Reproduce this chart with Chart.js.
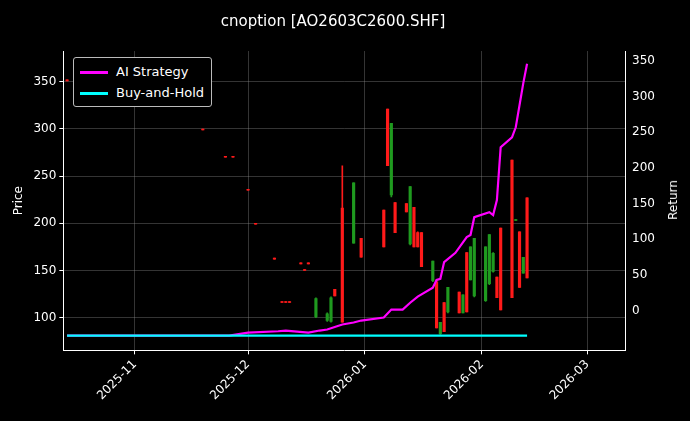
<!DOCTYPE html>
<html>
<head>
<meta charset="utf-8">
<script src="https://cdn.jsdelivr.net/npm/chart.js@4.4.1/dist/chart.umd.min.js"></script>
<style>
  body { margin: 0; background: #000; }
  #wrap { position: relative; width: 690px; height: 421px; }
  #legend {
    position: absolute; left: 73px; top: 57px; padding: 3px 7px 3px 6px;
    border: 1px solid #bbb; border-radius: 3px; background: #000;
    font: 13px "DejaVu Sans", sans-serif; color: #fff; line-height: 21px;
  }
  #legend span { display: inline-block; width: 28px; height: 3px; vertical-align: middle; margin-right: 8px; }
  #rtitle { position: absolute; left: 673px; top: 200px; color: #fff; font: 12px "DejaVu Sans", sans-serif;
    transform: translate(-50%, -50%) rotate(-90deg); }
</style>
</head>
<body>
<div id="wrap">
  <canvas id="c" width="690" height="421"></canvas>
  <div id="legend">
    <div><span style="background:#ff00ff"></span>AI Strategy</div>
    <div><span style="background:#00ffff"></span>Buy-and-Hold</div>
  </div>
  <div id="rtitle">Return</div>
</div>
<script>
// ===============================
// Data
// ===============================
const candleDates = [
  "2025-10-14","2025-11-07","2025-11-19","2025-11-25","2025-11-27","2025-12-01","2025-12-03",
  "2025-12-08","2025-12-10","2025-12-11","2025-12-12","2025-12-15","2025-12-16","2025-12-17",
  "2025-12-19","2025-12-22","2025-12-23","2025-12-24","2025-12-26","2025-12-29","2025-12-31",
  "2026-01-06","2026-01-07","2026-01-08","2026-01-09","2026-01-12","2026-01-13","2026-01-14",
  "2026-01-15","2026-01-16","2026-01-19","2026-01-20","2026-01-21","2026-01-22","2026-01-23",
  "2026-01-26","2026-01-27","2026-01-28","2026-01-29","2026-01-30","2026-02-02","2026-02-03",
  "2026-02-04","2026-02-05","2026-02-06","2026-02-09","2026-02-10","2026-02-11","2026-02-12",
  "2026-02-13"
];
const opens  = [352,326,300,271,271,236,200,163,117,117,117,158,151,158,
  101,97,96,130,216,179,184, 214,321,230,222,221,178,217,190,190,
  139,138,83,116,106, 127,105,169,140,123,118,136,149,143,195,267,203,191,147,227];
const closes = [351,325,299,270,270,235,199,162,116,116,116,157,150,157,
  120,104,121,123,95,243,164, 175,261,306,190,212,239,175,175,154,
  160,89,95,85,132, 105,124,106,175,184,175,188,168,121,108,121,204,132,164,142];
const highs  = [352,326,300,271,271,236,200,163,117,117,117,158,151,158,
  121,105,122,130,261,243,184, 214,321,306,222,221,239,217,191,190,
  160,140,95,116,132, 127,124,169,175,184,175,188,169,143,195,267,204,191,164,227];
const lows   = [351,325,299,270,270,235,199,162,116,116,116,157,150,157,
  100,96,95,123,95,179,164, 175,261,228,190,212,177,175,175,154,
  138,89,82,85,105, 105,105,106,140,122,117,135,148,121,108,121,203,132,147,142];

const lineDates = [
  "2025-10-14","2025-11-26","2025-12-01","2025-12-09","2025-12-11","2025-12-17","2025-12-20",
  "2025-12-22","2025-12-26","2025-12-29","2025-12-31","2026-01-06","2026-01-08","2026-01-11",
  "2026-01-13","2026-01-15","2026-01-19","2026-01-20","2026-01-21","2026-01-22","2026-01-25",
  "2026-01-28","2026-01-29","2026-01-30","2026-02-03","2026-02-04","2026-02-05","2026-02-06",
  "2026-02-09","2026-02-10","2026-02-12","2026-02-13"
];
const aiReturn = [-35,-35,-31,-29,-28,-31,-28,-26.5,-19.5,-16.7,-14,-9.8,1.4,1.4,
  11,19.5,32,43,44.6,68,81,103,106,131,138,134,155,229,243,257,319,346];
const bhReturn = lineDates.map(() => -35);

const leftTicks = [100, 150, 200, 250, 300, 350];
const rightTicks = [0, 50, 100, 150, 200, 250, 300, 350];
const monthTicks = ["2025-11-01","2025-12-01","2026-01-01","2026-02-01","2026-03-01"];

// ===============================
// Build
// ===============================
const t = s => Date.parse(s + "T00:00:00Z");
const colorOf = i => closes[i] >= opens[i] ? "#1f9a1f" : "#ff1a1a";
const candleColors = candleDates.map((d, i) => colorOf(i));

const wickData = candleDates.map((d, i) => ({ x: t(d), y: [lows[i], highs[i]] }));
const bodyData = candleDates.map((d, i) => ({ x: t(d), y: [Math.min(opens[i], closes[i]), Math.max(opens[i], closes[i])] }));

const grid = { color: "rgba(150,150,150,0.35)", borderDash: [3, 3], tickColor: "#fff", tickLength: 4, offset: false };
const tickFont = { family: "DejaVu Sans", size: 12 };

new Chart(document.getElementById("c"), {
  data: {
    datasets: [
      { type: "bar", data: wickData, yAxisID: "yPrice", backgroundColor: candleColors, barThickness: 1, grouped: false, order: 3 },
      { type: "bar", data: bodyData, yAxisID: "yPrice", backgroundColor: candleColors, barThickness: 2.5, grouped: false, order: 2 },
      { type: "line", label: "AI Strategy", data: lineDates.map((d, i) => ({ x: t(d), y: aiReturn[i] })),
        yAxisID: "yRet", borderColor: "#ff00ff", borderWidth: 2.2, pointRadius: 0, tension: 0, order: 1 },
      { type: "line", label: "Buy-and-Hold", data: lineDates.map((d, i) => ({ x: t(d), y: bhReturn[i] })),
        yAxisID: "yRet", borderColor: "#00ffff", borderWidth: 2.2, pointRadius: 0, tension: 0, order: 0 }
    ]
  },
  options: {
    responsive: false,
    animation: false,
    layout: { padding: { top: 13, right: 32, left: 8, bottom: 15 } },
    plugins: {
      legend: { display: false },
      tooltip: { enabled: false },
      title: { display: true, text: "cnoption [AO2603C2600.SHF]", color: "#fff",
        font: { family: "DejaVu Sans", size: 15, weight: "normal" }, padding: { top: 0, bottom: 20 } }
    },
    scales: {
      x: {
        type: "linear", offset: false, min: t("2025-10-13"), max: t("2026-03-11"),
        afterBuildTicks: ax => { ax.ticks = monthTicks.map(m => ({ value: t(m) })); },
        ticks: { color: "#fff", maxRotation: 45, minRotation: 45, font: tickFont,
          callback: v => { const d = new Date(v); return d.getUTCFullYear() + "-" + String(d.getUTCMonth() + 1).padStart(2, "0"); } },
        grid, border: { color: "#fff" }
      },
      yPrice: {
        position: "left", min: 65.2, max: 382.7,
        afterBuildTicks: ax => { ax.ticks = leftTicks.map(v => ({ value: v })); },
        ticks: { color: "#fff", font: tickFont },
        title: { display: true, text: "Price", color: "#fff", font: tickFont },
        grid, border: { color: "#fff" }
      },
      yRet: {
        position: "right", min: -55.8, max: 364,
        afterBuildTicks: ax => { ax.ticks = rightTicks.map(v => ({ value: v })); },
        ticks: { color: "#fff", font: tickFont },
        grid: { display: false, tickColor: "#fff", tickLength: 4 }, border: { color: "#fff" }
      }
    }
  },
  plugins: [{
    id: "bg",
    beforeDraw: c => { const g = c.ctx; g.save(); g.fillStyle = "#000"; g.fillRect(0, 0, c.width, c.height); g.restore(); }
  }]
});
</script>
</body>
</html>
